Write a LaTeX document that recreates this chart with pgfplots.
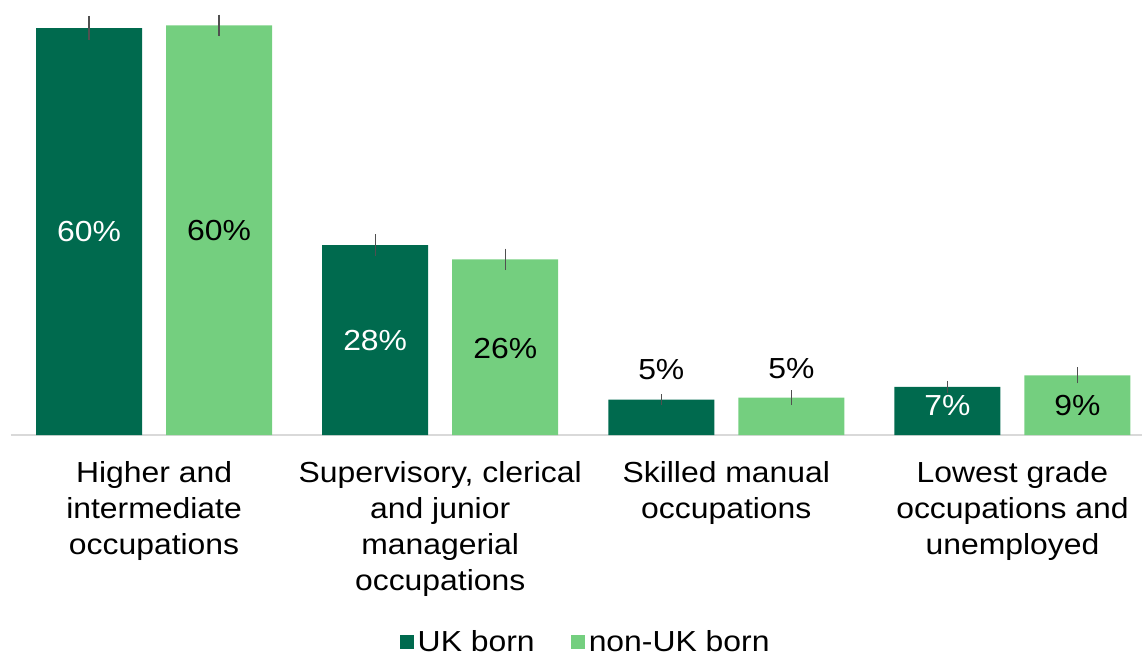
\documentclass[border=0pt]{standalone}
\usepackage{pgfplots}
\pgfplotsset{compat=1.18}
\usepackage{fontspec}
\setmainfont{Liberation Sans}[FakeStretch=1.1]
\definecolor{ukborn}{RGB}{0,106,78}
\definecolor{nonuk}{RGB}{116,207,127}
\definecolor{axisgray}{RGB}{217,217,217}
\definecolor{errgray}{RGB}{80,80,80}
\newcommand{\lblfont}{\fontsize{14.5}{18}\selectfont}
\begin{document}
\begin{tikzpicture}
\path[use as bounding box] (-5.5pt,-110pt) rectangle (565.5pt,217.5pt);
\begin{axis}[
  at={(0,0)}, anchor=south west,
  scale only axis, width=565.5pt, height=217pt,
  ybar=12pt, bar width=53pt,
  xmin=-0.5, xmax=3.4528, ymin=0, ymax=64,
  axis x line*=bottom, axis y line=none,
  x axis line style={axisgray, line width=0.75pt, -},
  xtick={0,1,2,3}, major tick length=0pt,
  xticklabels={{Higher and\\intermediate\\occupations},
               {Supervisory, clerical\\and junior\\managerial\\occupations},
               {Skilled manual\\occupations},
               {Lowest grade\\occupations and\\unemployed}},
  xticklabel style={align=center, font=\lblfont, text=black, yshift=-9.5pt},
  legend style={at={(0.509,-0.477)}, anchor=center, draw=none, fill=none,
    legend columns=2, font=\lblfont,
    /tikz/every even column/.append style={column sep=16pt},
    legend cell align=left},
  legend image code/.code={\fill[#1] (0pt,-3.5pt) rectangle (7pt,3.5pt);},
  error bars/error bar style={errgray, line width=0.65pt},
]
\addplot[fill=ukborn, draw=none,
  error bars/.cd, y dir=both, y explicit, error mark=none]
  coordinates {(0,60.0) +- (0,1.8) (1,28.0) +- (0,1.6) (2,5.2) +- (0,0.8) (3,7.1) +- (0,0.9)};
\addlegendentry{UK born}
\addplot[fill=nonuk, draw=none,
  error bars/.cd, y dir=both, y explicit, error mark=none]
  coordinates {(0,60.4) +- (0,1.6) (1,25.9) +- (0,1.6) (2,5.5) +- (0,1.1) (3,8.8) +- (0,1.2)};
\addlegendentry{non-UK born}
\node[font=\lblfont, text=white] at (axis cs:-0.2272,30.0) {60\%};
\node[font=\lblfont, text=black] at (axis cs:0.2272,30.2) {60\%};
\node[font=\lblfont, text=white] at (axis cs:0.7728,14.0) {28\%};
\node[font=\lblfont, text=black] at (axis cs:1.2272,12.8) {26\%};
\node[font=\lblfont, text=black] at (axis cs:1.7728,9.6) {5\%};
\node[font=\lblfont, text=black] at (axis cs:2.2272,9.8) {5\%};
\node[font=\lblfont, text=white] at (axis cs:2.7728,4.4) {7\%};
\node[font=\lblfont, text=black] at (axis cs:3.2272,4.4) {9\%};
\end{axis}
\end{tikzpicture}
\end{document}
